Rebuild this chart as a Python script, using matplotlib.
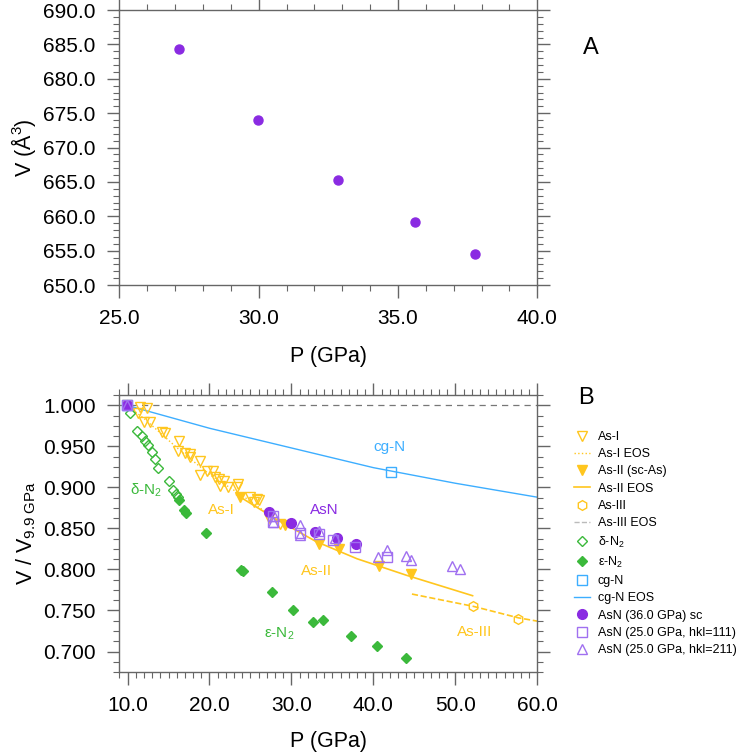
import matplotlib
matplotlib.use("Agg")
import matplotlib.pyplot as plt
from matplotlib.ticker import MultipleLocator, FormatStrFormatter
from matplotlib.lines import Line2D

plt.rcParams['font.family'] = ['Liberation Sans', 'DejaVu Sans']
plt.rcParams['mathtext.fontset'] = 'custom'
plt.rcParams['mathtext.rm'] = 'Liberation Sans'
plt.rcParams['mathtext.it'] = 'Liberation Sans:italic'

# ---------------- data ----------------
# Panel A: AsN volume vs pressure
pA = [27.14, 29.97, 32.85, 35.60, 37.75]
vA = [684.4, 674.0, 665.3, 659.1, 654.5]

# Panel B
asI_p = [9.9, 11.3, 11.5, 12.4, 11.95, 12.8, 14.2, 14.6, 16.3, 16.2, 17.0, 17.6, 17.6, 18.9,
         19.7, 20.4, 18.8, 20.7, 21.1, 21.8, 21.3, 22.3, 23.4, 23.5, 25.0, 25.8, 26.1, 25.4,
         27.2, 28.6]
asI_v = [1.000, 0.991, 0.998, 0.997, 0.980, 0.980, 0.967, 0.966, 0.957, 0.944, 0.942, 0.941, 0.937, 0.932,
         0.920, 0.920, 0.915, 0.913, 0.910, 0.908, 0.902, 0.900, 0.900, 0.904, 0.888, 0.886, 0.885, 0.882,
         0.863, 0.855]
asI_eos_p = [9.9, 12.0, 16.4, 20.1, 24.0, 28.0]
asI_eos_v = [1.000, 0.984, 0.945, 0.915, 0.890, 0.862]

asII_p = [23.7, 29.2, 33.4, 35.85, 40.7, 44.6]
asII_v = [0.888, 0.854, 0.831, 0.825, 0.804, 0.794]
asII_eos_p = [23.3, 28.0, 33.0, 38.0, 44.0, 52.1]
asII_eos_v = [0.891, 0.862, 0.834, 0.813, 0.793, 0.768]

asIII_p = [52.2, 57.7]
asIII_v = [0.755, 0.739]
asIII_eos_p = [44.7, 52.2, 57.7, 60.0]
asIII_eos_v = [0.770, 0.755, 0.741, 0.737]

dN2_p = [10.25, 11.2, 11.75, 12.16, 12.44, 12.97, 13.38, 13.7, 15.0, 15.6, 15.9, 16.1]
dN2_v = [0.990, 0.969, 0.963, 0.957, 0.951, 0.943, 0.935, 0.924, 0.908, 0.897, 0.892, 0.888]

eN2_p = [16.34, 16.83, 17.16, 19.6, 23.8, 24.1, 27.6, 30.2, 32.6, 33.8, 37.3, 40.4, 44.0]
eN2_v = [0.884, 0.872, 0.869, 0.844, 0.799, 0.798, 0.773, 0.751, 0.736, 0.738, 0.719, 0.707, 0.692]

cgN_p = [9.9, 42.1]
cgN_v = [1.000, 0.919]
cgN_eos_p = [9.9, 20.0, 30.0, 40.0, 50.0, 60.0]
cgN_eos_v = [1.000, 0.972, 0.948, 0.924, 0.905, 0.888]

asn_sc_p = [9.9, 27.2, 30.0, 32.9, 35.6, 37.85]
asn_sc_v = [1.000, 0.870, 0.856, 0.846, 0.838, 0.831]

asn111_p = [9.9, 27.8, 27.8, 31.0, 33.3, 35.1, 37.8, 41.6]
asn111_v = [1.000, 0.865, 0.858, 0.844, 0.843, 0.836, 0.827, 0.815]

asn211_p = [9.9, 27.9, 27.8, 31.0, 31.0, 33.3, 35.3, 40.6, 41.6, 44.0, 44.6, 49.6, 50.6]
asn211_v = [1.000, 0.865, 0.858, 0.854, 0.842, 0.847, 0.838, 0.815, 0.824, 0.816, 0.811, 0.804, 0.800]

# ---------------- style ----------------
YEL = '#FFC61E'
GRN = '#3BB93B'
BLU = '#3DAEFF'
PUR = '#8A2BE2'
LPU = '#A070F0'
AXC = '#666666'

fig = plt.figure(figsize=(7.38, 7.55), dpi=100)
axA = fig.add_axes([0.1617, 0.6225, 0.5664, 0.3642])
axB = fig.add_axes([0.1617, 0.1099, 0.5664, 0.3669])

def style(ax):
    for s in ax.spines.values():
        s.set_color(AXC)
        s.set_linewidth(1.0)
    ax.tick_params(which='both', direction='out', top=True, right=True, color=AXC,
                   labelsize=15, pad=8)
    ax.tick_params(which='major', length=9, width=1.0)
    ax.tick_params(which='minor', length=4.5, width=0.8)

# Panel A
axA.plot(pA, vA, 'o', color=PUR, ms=6.5, mec=PUR)
axA.set_xlim(25, 40)
axA.set_ylim(650, 690)
axA.xaxis.set_major_locator(MultipleLocator(5))
axA.xaxis.set_minor_locator(MultipleLocator(1))
axA.yaxis.set_major_locator(MultipleLocator(5))
axA.yaxis.set_minor_locator(MultipleLocator(1))
axA.xaxis.set_major_formatter(FormatStrFormatter('%.1f'))
axA.yaxis.set_major_formatter(FormatStrFormatter('%.1f'))
style(axA)
axA.set_xlabel('P (GPa)', fontsize=15.5, labelpad=13)
axA.set_ylabel('V (Å$^3$)', fontsize=15.5, labelpad=4)
fig.text(0.8, 1 - 48/755, 'A', fontsize=17, ha='center', va='center')

# Panel B
axB.axhline(1.0, color='#777777', lw=0.9, ls=(0, (5, 4)))
axB.plot(cgN_eos_p, cgN_eos_v, '-', color=BLU, lw=1.0)
axB.plot(asI_eos_p, asI_eos_v, ':', color=YEL, lw=1.0)
axB.plot(asII_eos_p, asII_eos_v, '-', color=YEL, lw=1.2)
axB.plot(asIII_eos_p, asIII_eos_v, '--', color=YEL, lw=1.2)
axB.plot(asI_p, asI_v, 'v', mfc='none', mec=YEL, ms=7, mew=1.0)
axB.plot(asII_p, asII_v, 'v', color=YEL, ms=7)
axB.plot(asIII_p, asIII_v, 'h', mfc='none', mec=YEL, ms=7, mew=1.0)
axB.plot(dN2_p, dN2_v, 'D', mfc='none', mec=GRN, ms=5, mew=1.0)
axB.plot(eN2_p, eN2_v, 'D', color=GRN, ms=5.5)
axB.plot(cgN_p, cgN_v, 's', mfc='none', mec=BLU, ms=7, mew=1.0)
axB.plot(asn_sc_p, asn_sc_v, 'o', color=PUR, ms=7)
axB.plot(asn111_p, asn111_v, 's', mfc='none', mec=LPU, ms=7, mew=1.0)
axB.plot(asn211_p, asn211_v, '^', mfc='none', mec=LPU, ms=7, mew=1.0)

axB.set_xlim(9.0, 60.0)
axB.set_ylim(0.675, 1.0125)
axB.xaxis.set_major_locator(MultipleLocator(10))
axB.xaxis.set_minor_locator(MultipleLocator(1))
axB.yaxis.set_major_locator(MultipleLocator(0.05))
axB.yaxis.set_minor_locator(MultipleLocator(0.0125))
axB.xaxis.set_major_formatter(FormatStrFormatter('%.1f'))
axB.yaxis.set_major_formatter(FormatStrFormatter('%.3f'))
style(axB)
axB.set_xlabel('P (GPa)', fontsize=15.5, labelpad=12)
axB.set_ylabel(r'V / V$_{\mathrm{9.9\ GPa}}$', fontsize=15.5, labelpad=4)
fig.text(586/738, 1 - 398/755, 'B', fontsize=17, ha='center', va='center')

# annotations
axB.text(42.0, 0.949, 'cg-N', color=BLU, fontsize=11, ha='center', va='center')
axB.text(34.0, 0.873, 'AsN', color=PUR, fontsize=11, ha='center', va='center')
axB.text(21.4, 0.873, 'As-I', color=YEL, fontsize=11, ha='center', va='center')
axB.text(33.1, 0.798, 'As-II', color=YEL, fontsize=11, ha='center', va='center')
axB.text(52.4, 0.724, 'As-III', color=YEL, fontsize=11, ha='center', va='center')
axB.text(12.2, 0.897, 'δ-N$_2$', color=GRN, fontsize=11, ha='center', va='center')
axB.text(28.5, 0.721, 'ε-N$_2$', color=GRN, fontsize=11, ha='center', va='center')

handles = [
    Line2D([], [], ls='none', marker='v', mfc='none', mec=YEL, ms=7),
    Line2D([], [], ls=':', color=YEL, lw=1.0),
    Line2D([], [], ls='none', marker='v', color=YEL, ms=7),
    Line2D([], [], ls='-', color=YEL, lw=1.2),
    Line2D([], [], ls='none', marker='h', mfc='none', mec=YEL, ms=7),
    Line2D([], [], ls='--', color='#BBBBBB', lw=1.0),
    Line2D([], [], ls='none', marker='D', mfc='none', mec=GRN, ms=5),
    Line2D([], [], ls='none', marker='D', color=GRN, ms=5.5),
    Line2D([], [], ls='none', marker='s', mfc='none', mec=BLU, ms=7),
    Line2D([], [], ls='-', color=BLU, lw=1.0),
    Line2D([], [], ls='none', marker='o', color=PUR, ms=7),
    Line2D([], [], ls='none', marker='s', mfc='none', mec=LPU, ms=7),
    Line2D([], [], ls='none', marker='^', mfc='none', mec=LPU, ms=7),
]
labels = ['As-I', 'As-I EOS', 'As-II (sc-As)', 'As-II EOS', 'As-III', 'As-III EOS',
          'δ-N$_2$', 'ε-N$_2$', 'cg-N', 'cg-N EOS', 'AsN (36.0 GPa) sc',
          'AsN (25.0 GPa, hkl=111)', 'AsN (25.0 GPa, hkl=211)']
fig.legend(handles, labels, loc='upper left', bbox_to_anchor=(574/738, 1 - 431/755),
           frameon=False, fontsize=9, handlelength=1.3, handletextpad=0.6,
           labelspacing=0.42, borderaxespad=0, borderpad=0)

fig.savefig('out.png', dpi=100)
